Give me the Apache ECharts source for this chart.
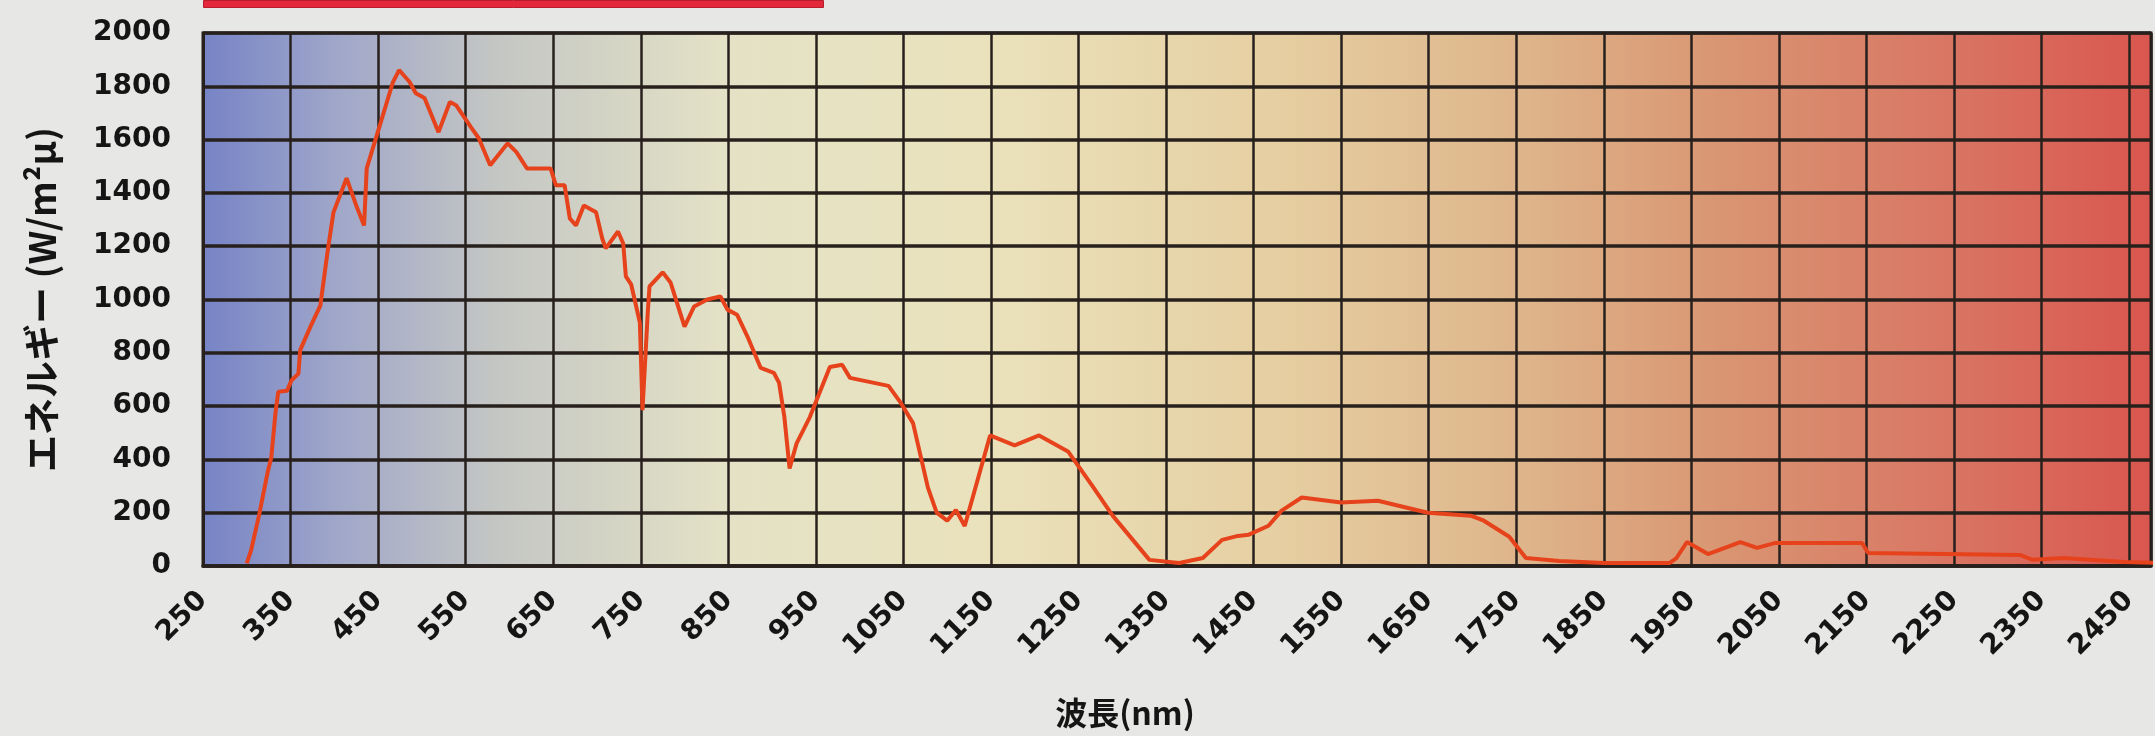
<!DOCTYPE html>
<html>
<head>
<meta charset="utf-8">
<script src="https://cdn.jsdelivr.net/npm/echarts@6/dist/echarts.min.js"></script>
<style>
  html, body { margin: 0; padding: 0; background: #e7e7e5; }
  #chart { width: 2155px; height: 736px; }
</style>
</head>
<body>
<div id="chart"></div>
<script>
// Solar spectral irradiance curve: wavelength (nm) vs energy (W/m²μ)
const wavelengthNm = [
  300, 305, 314, 324, 328, 333, 336, 346, 351, 359, 361, 373, 384, 392, 399,
  414, 425, 434, 437, 451, 467, 474, 486, 493, 503, 519, 532, 539, 556, 565,
  578, 598, 608, 620, 647, 653, 663, 669, 676, 685, 699, 706, 710, 724, 730,
  733, 739, 743, 749, 752, 758, 760, 775, 784, 800, 811, 826, 841, 849, 860,
  872, 887, 902, 908, 914, 920, 928, 943, 966, 980, 989, 1033, 1046, 1061, 1078,
  1088, 1100, 1110, 1120, 1149, 1177, 1205, 1238, 1266, 1289, 1331, 1365, 1392, 1414, 1432,
  1444, 1467, 1482, 1505, 1550, 1592, 1649, 1698, 1713, 1742, 1761, 1799, 1850, 1925, 1933,
  1945, 1969, 2006, 2025, 2045, 2145, 2152, 2326, 2340, 2375, 2445, 2490
];
const energy = [
  10, 60, 190, 354, 407, 582, 654, 658, 696, 722, 810, 900, 977, 1173, 1327,
  1455, 1353, 1278, 1492, 1643, 1816, 1861, 1816, 1774, 1756, 1628, 1741, 1729, 1647, 1605,
  1504, 1586, 1553, 1492, 1492, 1429, 1429, 1304, 1278, 1353, 1327, 1229, 1192, 1255, 1210,
  1087, 1057, 1000, 913, 585, 951, 1049, 1102, 1064, 898, 974, 1000, 1011, 962, 943,
  860, 743, 725, 687, 560, 366, 460, 558, 747, 755, 706, 676, 617, 536, 294,
  200, 170, 210, 150, 490, 453, 490, 430, 300, 189, 23, 11, 30, 98, 113,
  117, 151, 208, 257, 238, 245, 200, 189, 170, 110, 30, 19, 11, 11, 30,
  90, 45, 90, 68, 86, 86, 49, 41, 23, 30, 15, 11
];

// Axis ranges (ticks every 100 nm starting at 250 nm; the last column is a part column)
const xRange = [250, 2475];
const xStep = 100;
const yRange = [0, 2000];
const yStep = 200;

const axisName = { x: '波長(nm)', y: 'エネルギー (W/m²μ)' };

const gridInk = '#27201c';
const labelFont = 'DejaVu Sans';
const cjkFont = '"Noto Sans CJK JP", "Noto Sans CJK SC", sans-serif';

const chart = echarts.init(document.getElementById('chart'), null, { renderer: 'canvas' });

const plotFill = new echarts.graphic.LinearGradient(0, 0, 1, 0, [
  { offset: 0.00, color: '#7683c6' },
  { offset: 0.07, color: '#a0a7c9' },
  { offset: 0.15, color: '#c4c6c4' },
  { offset: 0.27, color: '#e4e2c6' },
  { offset: 0.40, color: '#eae2bc' },
  { offset: 0.55, color: '#e6cfa2' },
  { offset: 0.68, color: '#deb48a' },
  { offset: 0.78, color: '#d99572' },
  { offset: 0.88, color: '#d97a66' },
  { offset: 1.00, color: '#d9564e' }
]);

chart.setOption({
  backgroundColor: '#e7e7e5',
  animation: false,
  graphic: [{
    type: 'rect',
    left: 203, top: 0,
    shape: { width: 620, height: 7 },
    style: { fill: '#e2283a', stroke: '#b81e2c', lineWidth: 1 }
  }],
  grid: {
    left: 203, right: 4, top: 33, bottom: 170,
    show: true,
    backgroundColor: plotFill,
    borderColor: gridInk,
    borderWidth: 3
  },
  xAxis: {
    type: 'value',
    min: xRange[0], max: xRange[1], interval: xStep,
    name: axisName.x,
    nameLocation: 'middle',
    nameGap: 131,
    nameTextStyle: {
      fontFamily: cjkFont, fontWeight: 'bold', fontSize: 32, color: '#151515',
      padding: [0, 104, 0, 0], verticalAlign: 'top'
    },
    axisLine: { show: true, lineStyle: { color: gridInk, width: 3.5 } },
    axisTick: { show: false },
    splitLine: { show: true, lineStyle: { color: gridInk, width: 2.5 } },
    axisLabel: {
      rotate: 45, margin: 30,
      showMaxLabel: false,
      formatter: v => String(v),
      fontFamily: labelFont, fontWeight: 'bold', fontSize: 28, color: '#151515'
    }
  },
  yAxis: {
    type: 'value',
    min: yRange[0], max: yRange[1], interval: yStep,
    name: axisName.y,
    nameLocation: 'middle',
    nameGap: 143,
    nameTextStyle: { fontFamily: cjkFont, fontWeight: 'bold', fontSize: 37, color: '#151515' },
    axisLine: { show: true, lineStyle: { color: gridInk, width: 3 } },
    axisTick: { show: false },
    splitLine: { show: true, lineStyle: { color: gridInk, width: 3.5 } },
    axisLabel: {
      margin: 32,
      formatter: v => String(v),
      fontFamily: labelFont, fontWeight: 'bold', fontSize: 28, color: '#151515'
    }
  },
  series: [{
    type: 'line',
    data: wavelengthNm.map((w, i) => [w, energy[i]]),
    showSymbol: false,
    symbol: 'none',
    smooth: false,
    lineStyle: { color: '#e6421c', width: 4 },
    z: 5
  }]
});
</script>
</body>
</html>
